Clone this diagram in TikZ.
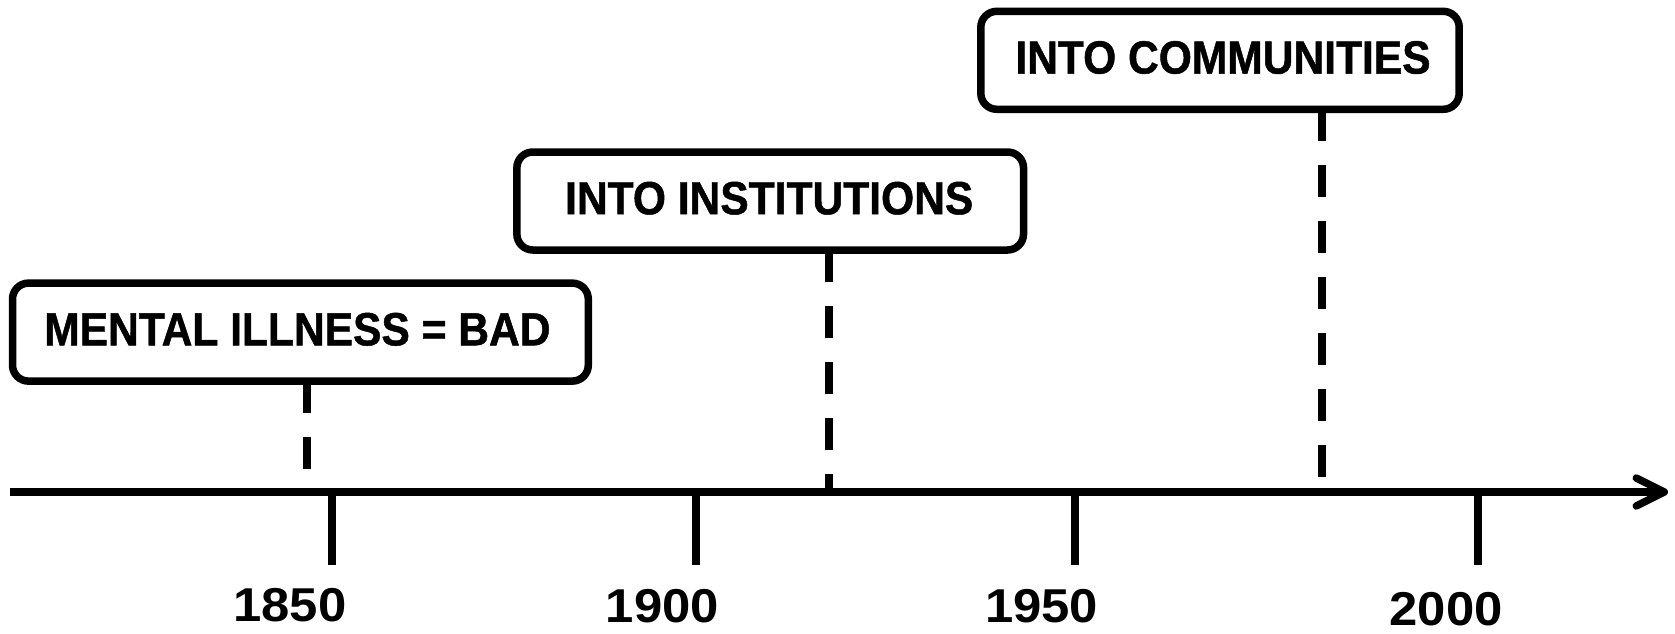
\documentclass[tikz,border=0pt]{standalone}
\usepackage{fontspec}
\setmainfont{Liberation Sans}
\newfontfamily\boxfont[FakeStretch=0.915,FakeBold=1]{Liberation Sans}
\newfontfamily\yearfont[FakeStretch=1.07]{Liberation Sans}
\usetikzlibrary{arrows.meta}
\begin{document}
\begin{tikzpicture}[x=0.5pt,y=-0.5pt,
  box/.style={draw, line width=3.75pt, rounded corners=8pt, minimum height=49pt,
    inner sep=0pt, outer sep=0pt, text depth=3pt,
    font=\boxfont\bfseries\fontsize{23.25pt}{28pt}\selectfont},
  year/.style={inner sep=0pt, font=\yearfont\bfseries\fontsize{23.75pt}{28pt}\selectfont},
  axisline/.style={line width=3.75pt},
  tickline/.style={line width=3.85pt},
  dashline/.style={line width=3.85pt, dash pattern=on 15.85pt off 12.15pt}]
\useasboundingbox (0,0) rectangle (1675,633);
% boxes
\node[box, minimum width=287.9pt] (b1) at (300.4,332.1) {MENTAL ILLNESS = BAD\hspace*{3pt}};
\node[box, minimum width=253.35pt] (b2) at (770.2,201) {INTO INSTITUTIONS\hspace*{1pt}};
\node[box, minimum width=239.2pt] (b3) at (1220,60.3) {\hspace*{3pt}INTO COMMUNITIES};
% axis points
\coordinate (axL) at (10,492);
\coordinate (axR) at (1668,492);
\coordinate (d1) at (307.3,492);
\coordinate (d2) at (829,492);
\coordinate (d3) at (1322.3,492);
\coordinate (t1) at (332.3,492); \coordinate (t1e) at (332.3,565);
\coordinate (t2) at (695.7,492); \coordinate (t2e) at (695.7,565);
\coordinate (t3) at (1074.7,492); \coordinate (t3e) at (1074.7,565);
\coordinate (t4) at (1478.3,492); \coordinate (t4e) at (1478.3,565);
% dashed connectors
\draw[dashline] (b1.south -| d1) -- (d1);
\draw[dashline] (b2.south -| d2) -- (d2);
\draw[dashline] (b3.south -| d3) -- (d3);
% axis
\draw[axisline, -{Straight Barb[length=14pt,width=14pt,round]}] (axL) -- (axR);
% ticks
\draw[tickline] (t1) -- (t1e);
\draw[tickline] (t2) -- (t2e);
\draw[tickline] (t3) -- (t3e);
\draw[tickline] (t4) -- (t4e);
% year labels
\node[year] (y1) at (290,605.5) {1850};
\node[year] (y2) at (662.5,605.8) {1900};
\node[year] (y3) at (1041.7,606) {1950};
\node[year] (y4) at (1446,609) {2000};
\end{tikzpicture}
\end{document}
